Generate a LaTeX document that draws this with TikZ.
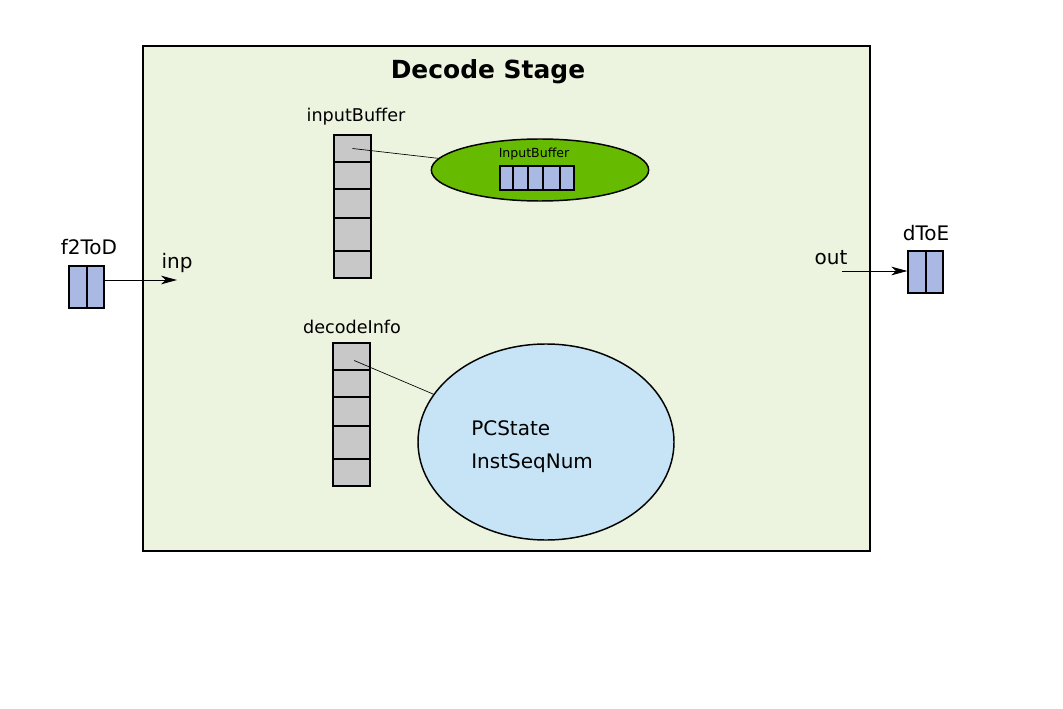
\documentclass[tikz,border=0pt]{standalone}
\usepackage{fontspec}
\setmainfont{DejaVu Sans}
\usepackage{tikz}
\usetikzlibrary{arrows.meta, positioning, fit, shapes.geometric}

\definecolor{stagebg}{RGB}{236,244,224}
\definecolor{cellgray}{RGB}{200,200,200}
\definecolor{portblue}{RGB}{170,185,228}
\definecolor{poolgreen}{RGB}{102,187,0}
\definecolor{poolblue}{RGB}{198,228,245}

\begin{document}
\begin{tikzpicture}[
    x=0.75pt, y=-0.75pt,
    stage/.style={rectangle, draw=black, line width=1.1pt, fill=stagebg, inner sep=0pt},
    cell/.style={rectangle, draw=black, line width=1.2pt, fill=cellgray, inner sep=0pt},
    port/.style={rectangle, draw=black, line width=1pt, fill=portblue, inner sep=0pt},
    pool/.style={ellipse, draw=black, line width=1.1pt, inner sep=0pt},
    title/.style={font=\fontsize{18.7}{21}\selectfont\bfseries, inner sep=0pt},
    tag/.style={font=\fontsize{15}{17}\selectfont, inner sep=0pt},
    subtag/.style={font=\fontsize{13.2}{15}\selectfont, inner sep=0pt},
    small/.style={font=\fontsize{9.4}{11}\selectfont, inner sep=0pt},
    link/.style={draw=black, line width=0.5pt},
    flow/.style={draw=black, line width=0.6pt, -{Stealth[length=12pt, width=6.5pt, inset=3.5pt]}}
]
    \useasboundingbox (0,0) rectangle (1063,709);

    \node[stage, fit={(143,46) (870,551)}] (stage) {};
    \node[title] (stagename) at (488,71.5) {Decode Stage};

    % inputBuffer
    \node[subtag] (ibname) at (356,117) {inputBuffer};
    \foreach \i/\t/\b in {1/135/162, 2/162/189, 3/189/218, 4/218/251, 5/251/278}
        \node[cell, fit={(334,\t) (371,\b)}] (ib\i) {};
    \node[pool, fill=poolgreen, minimum width=163pt, minimum height=46.5pt] (ibpool) at (540,170) {};
    \node[small] (ibpoolname) at (534,154) {InputBuffer};
    \foreach \i/\l/\r in {1/500/513, 2/513/528, 3/528/543, 4/543/560, 5/560/574}
        \node[port, fit={(\l,166) (\r,190)}] (ibe\i) {};
    \draw[link] (ib1.center) -- (ibpool);

    % decodeInfo
    \node[subtag] (diname) at (352,327) {decodeInfo};
    \foreach \i/\t/\b in {1/343/370, 2/370/397, 3/397/426, 4/426/459, 5/459/486}
        \node[cell, fit={(333,\t) (370,\b)}] (di\i) {};
    \node[pool, fill=poolblue, minimum width=192pt, minimum height=147pt] (dipool) at (546,442) {};
    \node[tag, anchor=west] (pcstate) at (471,428) {PCState};
    \node[tag, anchor=west] (seqnum) at (471,463) {InstSeqNum};
    \draw[link] ([xshift=2pt, yshift=-3pt]di1.center) -- (dipool);

    % ports
    \node[tag] (f2dname) at (89,247) {f2ToD};
    \node[port, fit={(69,266) (87,308)}] (f2d1) {};
    \node[port, fit={(87,266) (104,308)}] (f2d2) {};
    \coordinate (inp) at (177,280);
    \node[tag] (inpname) at (177,263) {inp};
    \draw[flow] ([yshift=5.25pt]f2d2.east) -- (inp);

    \node[tag] (d2ename) at (926,233) {dToE};
    \node[port, fit={(908,251) (926,293)}] (d2e1) {};
    \node[port, fit={(926,251) (943,293)}] (d2e2) {};
    \coordinate (outsrc) at (842,271);
    \node[tag] (outname) at (831,258) {out};
    \draw[flow] (outsrc) -- ([yshift=0.75pt]d2e1.west);
\end{tikzpicture}
\end{document}
